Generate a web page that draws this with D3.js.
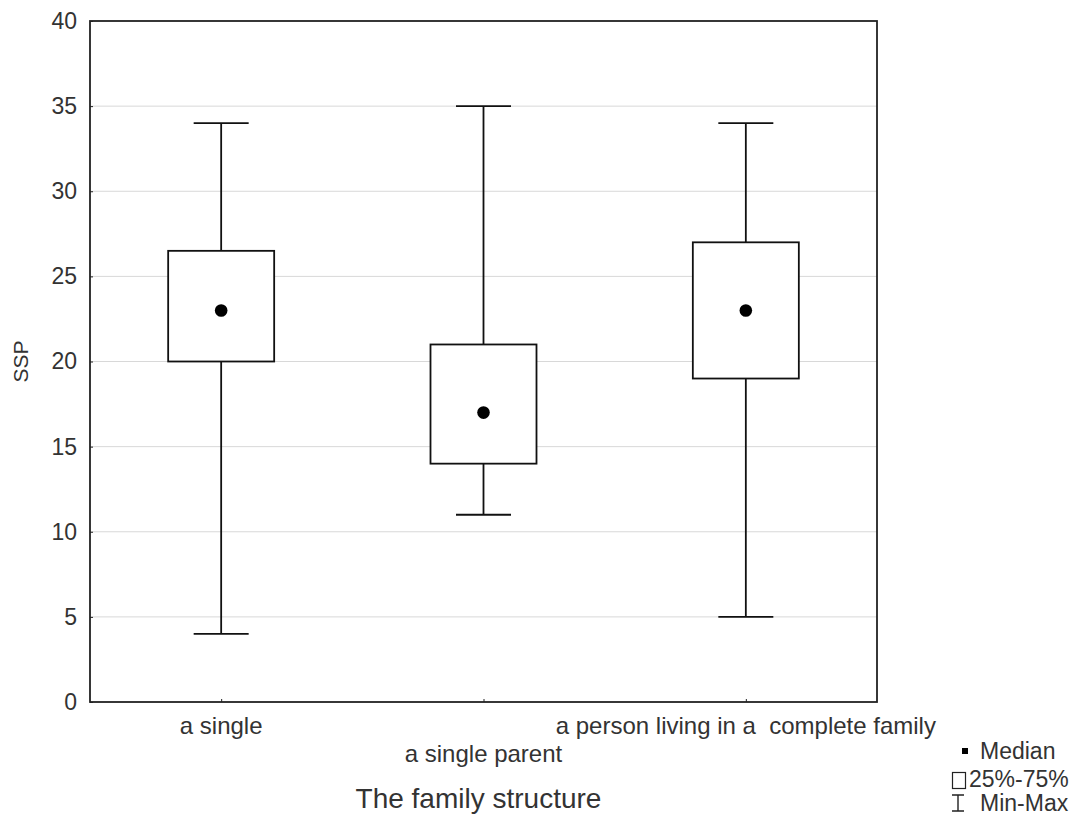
<!DOCTYPE html>
<html>
<head>
<meta charset="utf-8">
<script src="https://cdn.jsdelivr.net/npm/d3@7"></script>
<style>
  body { margin: 0; background: #fff; }
  svg { display: block; }
  text { font-family: "Liberation Sans", Arial, sans-serif; fill: #333; }
</style>
</head>
<body>
<svg id="chart" width="1086" height="817"></svg>
<script>
// data
const categories = ["a single", "a single parent", "a person living in a  complete family"];
const mins = [4, 11, 5];
const q1s = [20, 14, 19];
const medians = [23, 17, 23];
const q3s = [26.5, 21, 27];
const maxs = [34, 35, 34];
const yTicks = [0, 5, 10, 15, 20, 25, 30, 35, 40];

var margin = { left: 90, top: 21, right: 209, bottom: 115 },
    svg = d3.select("#chart"),
    width = +svg.attr("width") - margin.left - margin.right,
    height = +svg.attr("height") - margin.top - margin.bottom;

var g = svg.append("g").attr("transform", "translate(" + margin.left + "," + margin.top + ")");

var y = d3.scaleLinear().domain([0, 40]).range([height, 0]);
var x = d3.scalePoint().domain(categories).range([0, width]).padding(0.5);

var boxW = 106, capW = 55, lineW = 1.8;

// gridlines
g.selectAll(".grid").data(yTicks.filter(d => d > 0 && d < 40)).enter()
    .append("line").attr("class", "grid")
    .attr("x1", 0).attr("x2", width)
    .attr("y1", d => y(d)).attr("y2", d => y(d))
    .attr("stroke", "#d8d8d8").attr("stroke-width", 1);

// y axis labels + short inward ticks
var yAxis = d3.axisLeft(y).tickValues(yTicks).tickSize(-3).tickPadding(13);
var ya = g.append("g").call(yAxis);
ya.select(".domain").remove();
ya.selectAll("line").attr("stroke", "#222");
ya.selectAll("text").style("font-size", "23px").attr("fill", "#333")
    .style("font-family", "'Liberation Sans', Arial, sans-serif");

// x ticks pointing up
var xAxis = d3.axisBottom(x).tickSize(-3).tickFormat("");
var xa = g.append("g").attr("transform", "translate(0," + height + ")").call(xAxis);
xa.select(".domain").remove();
xa.selectAll("line").attr("stroke", "#222");

// category labels, middle one staggered down
g.selectAll(".xlab").data(categories).enter()
    .append("text").attr("class", "xlab")
    .attr("x", d => x(d))
    .attr("y", (d, i) => height + (i % 2 ? 60 : 32))
    .attr("text-anchor", "middle")
    .attr("xml:space", "preserve")
    .style("white-space", "pre")
    .style("font-size", "24px")
    .text(d => d);

// boxes
var items = categories.map((c, i) => ({ key: c, min: mins[i], q1: q1s[i], med: medians[i], q3: q3s[i], max: maxs[i] }));
var bx = g.selectAll(".bx").data(items).enter().append("g").attr("class", "bx");

bx.append("line")
    .attr("x1", d => x(d.key)).attr("x2", d => x(d.key))
    .attr("y1", d => y(d.max)).attr("y2", d => y(d.min))
    .attr("stroke", "#111").attr("stroke-width", lineW);
bx.append("line")
    .attr("x1", d => x(d.key) - capW / 2).attr("x2", d => x(d.key) + capW / 2)
    .attr("y1", d => y(d.max)).attr("y2", d => y(d.max))
    .attr("stroke", "#111").attr("stroke-width", lineW);
bx.append("line")
    .attr("x1", d => x(d.key) - capW / 2).attr("x2", d => x(d.key) + capW / 2)
    .attr("y1", d => y(d.min)).attr("y2", d => y(d.min))
    .attr("stroke", "#111").attr("stroke-width", lineW);
bx.append("rect")
    .attr("x", d => x(d.key) - boxW / 2).attr("width", boxW)
    .attr("y", d => y(d.q3)).attr("height", d => y(d.q1) - y(d.q3))
    .attr("fill", "#fff").attr("stroke", "#111").attr("stroke-width", lineW);
bx.append("circle")
    .attr("cx", d => x(d.key)).attr("cy", d => y(d.med))
    .attr("r", 6.3).attr("fill", "#000");

// frame
g.append("rect").attr("width", width).attr("height", height)
    .attr("fill", "none").attr("stroke", "#222").attr("stroke-width", lineW);

// axis titles
svg.append("text")
    .attr("transform", "translate(28," + (margin.top + y(20)) + ") rotate(-90)")
    .attr("text-anchor", "middle")
    .style("font-size", "21px")
    .text("SSP");
svg.append("text")
    .attr("x", margin.left + width / 2 - 5).attr("y", 808)
    .attr("text-anchor", "middle")
    .style("font-size", "28px")
    .text("The family structure");

// legend
var lg = svg.append("g").attr("transform", "translate(952,737)");
lg.append("rect").attr("x", 10).attr("y", 11).attr("width", 6).attr("height", 6).attr("fill", "#000");
lg.append("text").attr("x", 28).attr("y", 22).style("font-size", "23px").text("Median");
lg.append("rect").attr("x", 0.5).attr("y", 35.5).attr("width", 13).attr("height", 16)
    .attr("fill", "none").attr("stroke", "#222").attr("stroke-width", 1.2);
lg.append("text").attr("x", 17).attr("y", 50).style("font-size", "23px").text("25%-75%");
lg.append("path").attr("d", "M0,58H12M6,58V74M0,74H12")
    .attr("stroke", "#222").attr("stroke-width", 1.4).attr("fill", "none");
lg.append("text").attr("x", 28).attr("y", 74).style("font-size", "23px").text("Min-Max");
</script>
</body>
</html>
